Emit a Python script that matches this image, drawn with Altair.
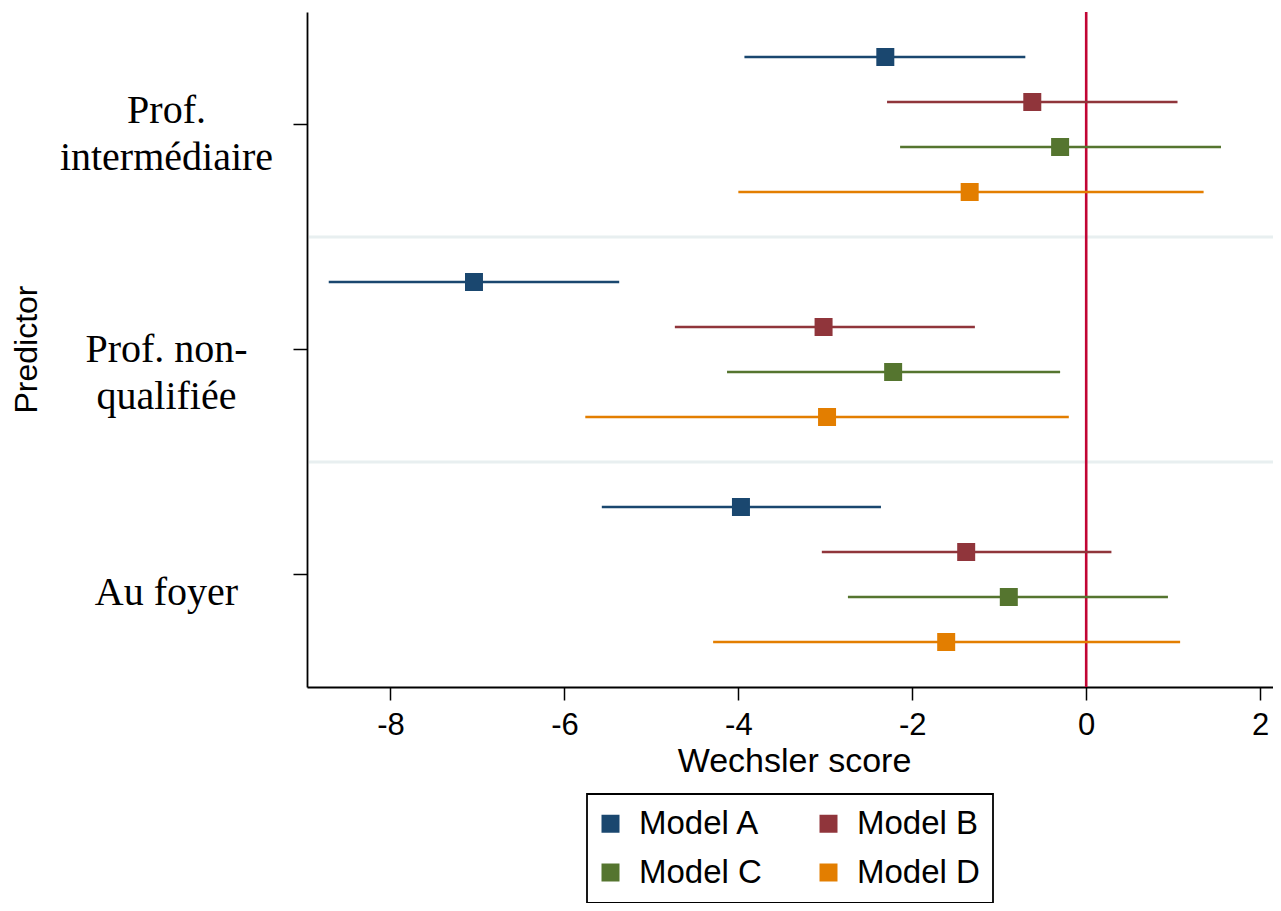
import altair as alt
import pandas as pd

# ---- data ----
categories = ["Prof. intermédiaire", "Prof. non-qualifiée", "Au foyer"]
category_lines = [["Prof.", "intermédiaire"], ["Prof. non-", "qualifiée"], ["Au foyer"]]
models = ["Model A", "Model B", "Model C", "Model D"]
colors = ["#1a476f", "#90353b", "#55752f", "#e37e00"]

# estimates (rows: categories, columns: models A..D)
est_interm = [-2.31, -0.62, -0.30, -1.34]
low_interm = [-3.93, -2.29, -2.14, -4.00]
high_interm = [-0.70, 1.05, 1.55, 1.35]

est_nonqual = [-7.04, -3.02, -2.22, -2.98]
low_nonqual = [-8.71, -4.73, -4.13, -5.76]
high_nonqual = [-5.37, -1.28, -0.30, -0.20]

est_foyer = [-3.97, -1.38, -0.89, -1.61]
low_foyer = [-5.57, -3.04, -2.74, -4.29]
high_foyer = [-2.36, 0.29, 0.94, 1.08]

x_ticks = [-8, -6, -4, -2, 0, 2]
x_domain = [-8.96, 2.148]
zero_value = [0]
separators = ["Prof. non-qualifiée", "Au foyer"]

rows = []
for cat, est, lo, hi in [
    (categories[0], est_interm, low_interm, high_interm),
    (categories[1], est_nonqual, low_nonqual, high_nonqual),
    (categories[2], est_foyer, low_foyer, high_foyer),
]:
    for m, e, l, h in zip(models, est, lo, hi):
        rows.append({"predictor": cat, "model": m, "est": e, "lo": l, "hi": h})
df = pd.DataFrame(rows)
sep_df = pd.DataFrame({"predictor": separators})
zero_df = pd.DataFrame({"v": zero_value})

SANS = "Liberation Sans"
SERIF = "Liberation Serif"

label_expr = ""
for cat, lines in zip(categories, category_lines):
    arr = "[" + ",".join(f"'{t}'" for t in lines) + "]"
    label_expr += f"datum.label == '{cat}' ? {arr} : "
label_expr += "datum.label"

label_offset = {
    "condition": [
        {"test": f"datum.value == '{categories[0]}'", "value": -34},
        {"test": f"datum.value == '{categories[1]}'", "value": -20},
    ],
    "value": -2,
}

y_scale = alt.Scale(domain=categories, paddingInner=0, paddingOuter=0)
x_scale = alt.Scale(domain=x_domain, nice=False, zero=False)

y_axis = alt.Axis(
    title="Predictor",
    titleFont=SANS,
    titleFontSize=32,
    titleFontWeight="normal",
    titleColor="black",
    titleAngle=270,
    titleX=-281,
    titleY=337,
    titleAlign="center",
    titleBaseline="middle",
    labelFont=SERIF,
    labelFontSize=40,
    labelColor="black",
    labelAlign="center",
    labelBaseline="top",
    labelLineHeight=47.5,
    labelPadding=127,
    labelLimit=0,
    labelOffset=label_offset,
    labelExpr=label_expr,
    tickSize=14,
    tickColor="black",
    tickWidth=1.5,
    domainColor="black",
    domainWidth=1.8,
    grid=False,
)

x_axis = alt.Axis(
    title="Wechsler score",
    titleFont=SANS,
    titleFontSize=34,
    titleFontWeight="normal",
    titleColor="black",
    titleX=487,
    titleY=84,
    titleBaseline="alphabetic",
    values=x_ticks,
    labelExpr="'' + datum.value",
    labelFont=SANS,
    labelFontSize=31,
    labelColor="black",
    labelPadding=10,
    tickSize=13,
    tickColor="black",
    tickWidth=1.5,
    domainColor="black",
    domainWidth=1.8,
    grid=False,
)

yoff = alt.YOffset(
    "model:N",
    sort=models,
    scale=alt.Scale(domain=models, paddingInner=0, paddingOuter=0.5),
)

color_scale = alt.Scale(domain=models, range=colors)

legend = alt.Legend(
    title=None,
    orient="none",
    direction="horizontal",
    legendX=280,
    legendY=782,
    columns=2,
    columnPadding=56,
    rowPadding=15,
    padding=13,
    symbolType="square",
    symbolSize=324,
    symbolStrokeWidth=0,
    symbolOpacity=1,
    symbolOffset=-6,
    labelFont=SANS,
    labelFontSize=33,
    labelColor="black",
    labelOffset=12,
    labelBaseline="middle",
    strokeColor="black",
    fillColor="white",
    cornerRadius=0,
)

seps = alt.Chart(sep_df).mark_rule(color="#e8eff0", strokeWidth=3).encode(
    y=alt.Y("predictor:N", sort=categories, scale=y_scale, axis=y_axis, bandPosition=0),
    x=alt.value(2),
    x2=alt.value("width"),
)

zero = alt.Chart(zero_df).mark_rule(color="#c10534", strokeWidth=2.6).encode(
    x=alt.X("v:Q", scale=x_scale, axis=x_axis),
)

bars = alt.Chart(df).mark_rule(strokeWidth=2.6).encode(
    x=alt.X("lo:Q", scale=x_scale, axis=x_axis),
    x2="hi:Q",
    y=alt.Y("predictor:N", sort=categories, scale=y_scale, axis=y_axis),
    yOffset=yoff,
    color=alt.Color("model:N", scale=color_scale, legend=legend),
)

points = alt.Chart(df).mark_square(size=324, opacity=1, filled=True).encode(
    x=alt.X("est:Q", scale=x_scale, axis=x_axis),
    y=alt.Y("predictor:N", sort=categories, scale=y_scale, axis=y_axis),
    yOffset=yoff,
    color=alt.Color("model:N", scale=color_scale, legend=legend),
)

chart = (
    alt.layer(seps, zero, bars, points)
    .properties(
        width=966,
        height=675,
        autosize=alt.AutoSizeParams(type="none"),
        padding={"left": 299, "top": 4, "right": 0, "bottom": 216},
        background="white",
    )
    .configure_view(stroke=None)
    .configure_legend(strokeWidth=1.8)
)

chart.save("out.html", embed_options={"renderer": "svg", "actions": False})
